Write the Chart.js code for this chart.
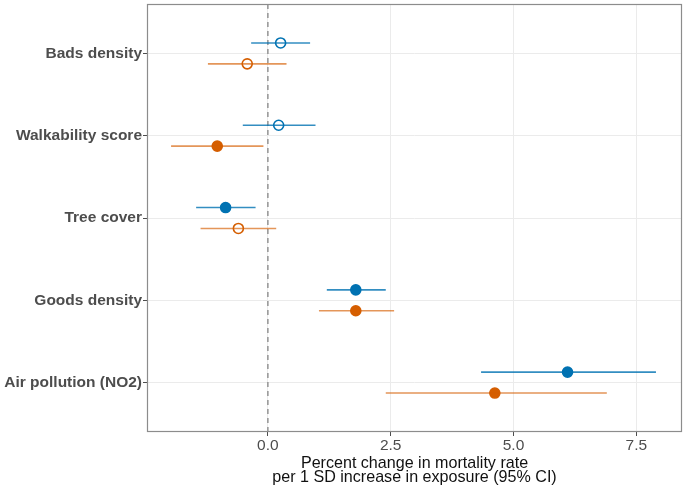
<!DOCTYPE html>
<html>
<head>
<meta charset="utf-8">
<script src="https://cdn.jsdelivr.net/npm/chart.js@4/dist/chart.umd.min.js"></script>
<style>
  html,body{margin:0;padding:0;background:#fff;}
  #wrap{width:688px;height:490px;}
</style>
</head>
<body>
<div id="wrap"><canvas id="chart" width="688" height="490"></canvas></div>
<script>
/* ================= DATA ================= */
const categories = ['Bads density','Walkability score','Tree cover','Goods density','Air pollution (NO2)'];
const xTicks     = [0, 2.5, 5, 7.5];

// blue series
const blueEst = [0.26, 0.22, -0.86, 1.79, 6.10];
const blueLo  = [-0.34, -0.51, -1.46, 1.20, 4.34];
const blueHi  = [0.86, 0.97, -0.25, 2.40, 7.90];
const blueSig = [false, false, true, true, true];

// orange series
const orangeEst = [-0.42, -1.03, -0.60, 1.79, 4.62];
const orangeLo  = [-1.22, -1.97, -1.37, 1.04, 2.40];
const orangeHi  = [0.38, -0.09, 0.17, 2.57, 6.90];
const orangeSig = [false, true, false, true, true];

/* ================= HELPERS ================= */
const BLUE='#0072B2', ORANGE='#D55E00';
const OFF = 0.127;
const FONT = '"Liberation Sans", Arial, sans-serif';

function ciLine(lo,hi,shift){
  const out=[];
  lo.forEach((v,i)=>{
    out.push({x:v, y:i+1+shift});
    out.push({x:hi[i], y:i+1+shift});
    out.push({x:null, y:null});
  });
  return out;
}
const pts=(est,shift)=>est.map((v,i)=>({x:v, y:i+1+shift}));

/* panel border + zero reference line */
const panel = {
  id:'panel',
  beforeDatasetsDraw(c){
    const {ctx, chartArea:a, scales:{x}} = c;
    const zx = x.getPixelForValue(0);
    ctx.save();
    ctx.strokeStyle='#9a9a9a'; ctx.lineWidth=1.6; ctx.setLineDash([5,4]);
    ctx.beginPath(); ctx.moveTo(zx,a.top); ctx.lineTo(zx,a.bottom); ctx.stroke();
    ctx.restore();
  },
  afterDraw(c){
    const {ctx, chartArea:a} = c;
    ctx.save();
    ctx.strokeStyle='#8c8c8c'; ctx.lineWidth=1.2;
    ctx.strokeRect(a.left+0.5, a.top+0.5, a.right-a.left-1, a.bottom-a.top-1);
    ctx.restore();
  }
};

/* ================= CHART ================= */
new Chart(document.getElementById('chart'), {
  type:'scatter',
  data:{
    datasets:[
      { data:ciLine(blueLo,blueHi,-OFF), showLine:true, borderColor:'rgba(0,114,178,0.8)', borderWidth:1.6, pointRadius:0, spanGaps:false },
      { data:ciLine(orangeLo,orangeHi,OFF), showLine:true, borderColor:'rgba(213,94,0,0.65)', borderWidth:1.6, pointRadius:0, spanGaps:false },
      { data:pts(blueEst,-OFF), pointRadius:5, borderColor:BLUE, borderWidth:1.6,
        pointBackgroundColor:blueSig.map(s=>s?BLUE:'#fff') },
      { data:pts(orangeEst,OFF), pointRadius:5, borderColor:ORANGE, borderWidth:1.6,
        pointBackgroundColor:orangeSig.map(s=>s?ORANGE:'#fff') }
    ]
  },
  options:{
    responsive:false, animation:false,
    layout:{autoPadding:false, padding:{top:4,right:6,bottom:0,left:0}},
    plugins:{legend:{display:false}, tooltip:{enabled:false}},
    scales:{
      x:{
        type:'linear', min:-2.46, max:8.43,
        afterBuildTicks:s=>{ s.ticks = xTicks.map(v=>({value:v})); },
        afterFit:s=>{ s.height = 58; s.paddingLeft = 0; s.paddingRight = 0; },
        grid:{color:'#ebebeb', lineWidth:1, tickLength:4, tickColor:'#4d4d4d', drawTicks:true},
        border:{display:false},
        ticks:{color:'#4d4d4d', font:{family:FONT, size:15.5}, padding:0,
               callback:v=>Number(v).toFixed(1), maxRotation:0},
        title:{display:true, text:['Percent change in mortality rate','per 1 SD increase in exposure (95% CI)'],
               color:'#111', font:{family:FONT, size:16.1, lineHeight:0.87}, padding:{top:0,bottom:5}}
      },
      y:{
        type:'linear', reverse:true, min:0.4, max:5.6,
        afterBuildTicks:s=>{ s.ticks = categories.map((c,i)=>({value:i+1})); },
        afterFit:s=>{ s.width = 147; s.paddingTop = 0; s.paddingBottom = 0; },
        grid:{color:'#ebebeb', lineWidth:1, tickLength:4, tickColor:'#4d4d4d'},
        border:{display:false},
        ticks:{color:'#4d4d4d', font:{family:FONT, size:15.5, weight:'bold'}, padding:1,
               callback:v=>categories[Math.round(v)-1] || ''}
      }
    }
  },
  plugins:[panel]
});
</script>
</body>
</html>
